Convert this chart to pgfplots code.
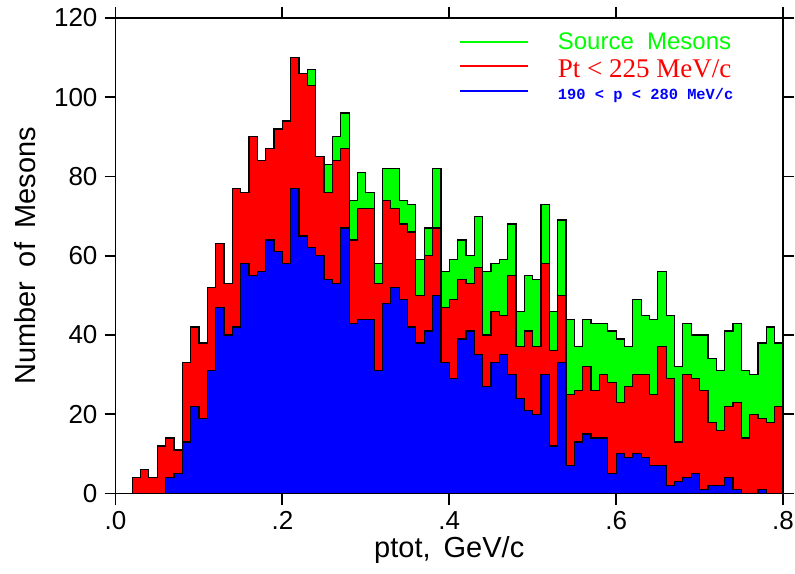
\documentclass[border=0pt]{standalone}
\usepackage{fontspec}
\setmainfont{Liberation Sans}
\newfontfamily\serifred{Liberation Serif}
\newfontfamily\monoblue{Liberation Mono}
\usepackage{pgfplots}
\usepackage{pgfplotstable}
\pgfplotsset{compat=1.18}
\definecolor{hgreen}{RGB}{0,255,0}
\definecolor{hred}{RGB}{255,0,0}
\definecolor{hblue}{RGB}{0,0,255}

\pgfplotstableread{
x g r b
0.00 0 0 0
0.01 0 0 0
0.02 4 4 0
0.03 6 6 0
0.04 4 4 0
0.05 12 12 0
0.06 14 14 4
0.07 11 11 5
0.08 33 33 13
0.09 42 42 22
0.10 38 38 19
0.11 52 52 31
0.12 63 63 47
0.13 53 53 40
0.14 77 77 42
0.15 76 76 58
0.16 90 90 55
0.17 84 84 56
0.18 87 87 64
0.19 92 92 61
0.20 94 94 58
0.21 110 110 77
0.22 106 106 65
0.23 107 103 62
0.24 85 85 60
0.25 83 76 54
0.26 90 84 53
0.27 96 87 67
0.28 74 64 43
0.29 81 72 44
0.30 76 72 44
0.31 58 53 31
0.32 82 74 48
0.33 82 72 52
0.34 74 68 49
0.35 73 66 42
0.36 59 50 38
0.37 67 60 41
0.38 82 67 50
0.39 56 47 33
0.40 59 49 29
0.41 64 54 39
0.42 60 53 41
0.43 70 57 35
0.44 56 40 27
0.45 58 46 33
0.46 59 45 35
0.47 68 55 30
0.48 46 37 24
0.49 55 41 21
0.50 54 37 20
0.51 73 58 30
0.52 46 36 12
0.53 69 50 33
0.54 44 25 7
0.55 37 26 13
0.56 44 32 15
0.57 43 26 14
0.58 43 30 14
0.59 41 28 5
0.60 39 23 10
0.61 37 27 9
0.62 49 30 10
0.63 45 30 9
0.64 44 25 7
0.65 56 37 7
0.66 45 29 2
0.67 32 13 3
0.68 43 30 4
0.69 40 29 5
0.70 40 26 1
0.71 34 18 2
0.72 31 16 2
0.73 41 22 4
0.74 43 23 1
0.75 31 14 0
0.76 30 20 0
0.77 38 19 1
0.78 42 18 0
0.79 38 22 0
0.80 38 22 0
}\hist

\begin{document}
\begin{tikzpicture}
\begin{axis}[name=ax, scale only axis, width=333.75pt, height=237.75pt,
  xmin=0, xmax=0.8, ymin=0, ymax=120,
  xtick={0,0.2,0.4,0.6,0.8}, xticklabels={.0,.2,.4,.6,.8},
  ytick={0,20,...,120},
  tick align=outside, tick pos=both, major tick length=5.5pt,
  axis line style={line width=0.9pt},
  every tick/.style={black, line width=0.9pt},
  ticklabel style={font=\fontsize{13}{13}\selectfont},
  /pgf/number format/assume math mode=true,
  xlabel={ptot,\hspace{0.45em}GeV/c},
  ylabel={Number\hspace{0.5em}of\hspace{0.5em}Mesons},
  label style={font=\fontsize{14.5}{14.5}\selectfont},
  xlabel style={at={(axis description cs:0.5,-0.1356)}, anchor=base},
  ylabel style={at={(axis description cs:-0.1356,0.5)}, anchor=center},
  legend style={draw=none, fill=none, inner sep=0pt, outer sep=0pt,
    row sep=0pt, column sep=0pt,
    at={(axis description cs:0.5146,0.9748)}, anchor=north west,
    nodes={inner sep=0pt, text depth=0pt}},
  legend cell align=left,
  legend image code/.code={\draw[#1] (0pt,-1.2pt) -- (34pt,-1.2pt); \path[draw=none] (0pt,0pt) -- (49pt,0pt);},
]
\addplot[const plot, fill=hgreen, draw=black, line width=0.6pt, forget plot] table[x=x,y=g]{\hist} \closedcycle;
\addplot[const plot, fill=hred, draw=black, line width=0.6pt, forget plot] table[x=x,y=r]{\hist} \closedcycle;
\addplot[const plot, fill=hblue, draw=black, line width=0.6pt, forget plot] table[x=x,y=b]{\hist} \closedcycle;
\addlegendimage{draw=hgreen, line width=0.9pt}
\addlegendentry{\rule{0pt}{10pt}\fontsize{12}{12}\selectfont\color{hgreen}Source\hspace{0.55em}Mesons}
\addlegendimage{draw=hred, line width=0.9pt}
\addlegendentry{\rule{0pt}{14pt}\serifred\fontsize{13.5}{13.5}\selectfont\color{hred}Pt < 225 MeV/c}
\addlegendimage{draw=hblue, line width=0.9pt}
\addlegendentry{\rule{0pt}{11pt}\monoblue\bfseries\fontsize{7.7}{7.7}\selectfont\color{hblue}190 < p < 280 MeV/c}
\end{axis}
\pgfresetboundingbox
\path ([xshift=-57.75pt,yshift=-39.75pt]ax.south west) rectangle ([xshift=6pt,yshift=9pt]ax.north east);
\end{tikzpicture}
\end{document}
